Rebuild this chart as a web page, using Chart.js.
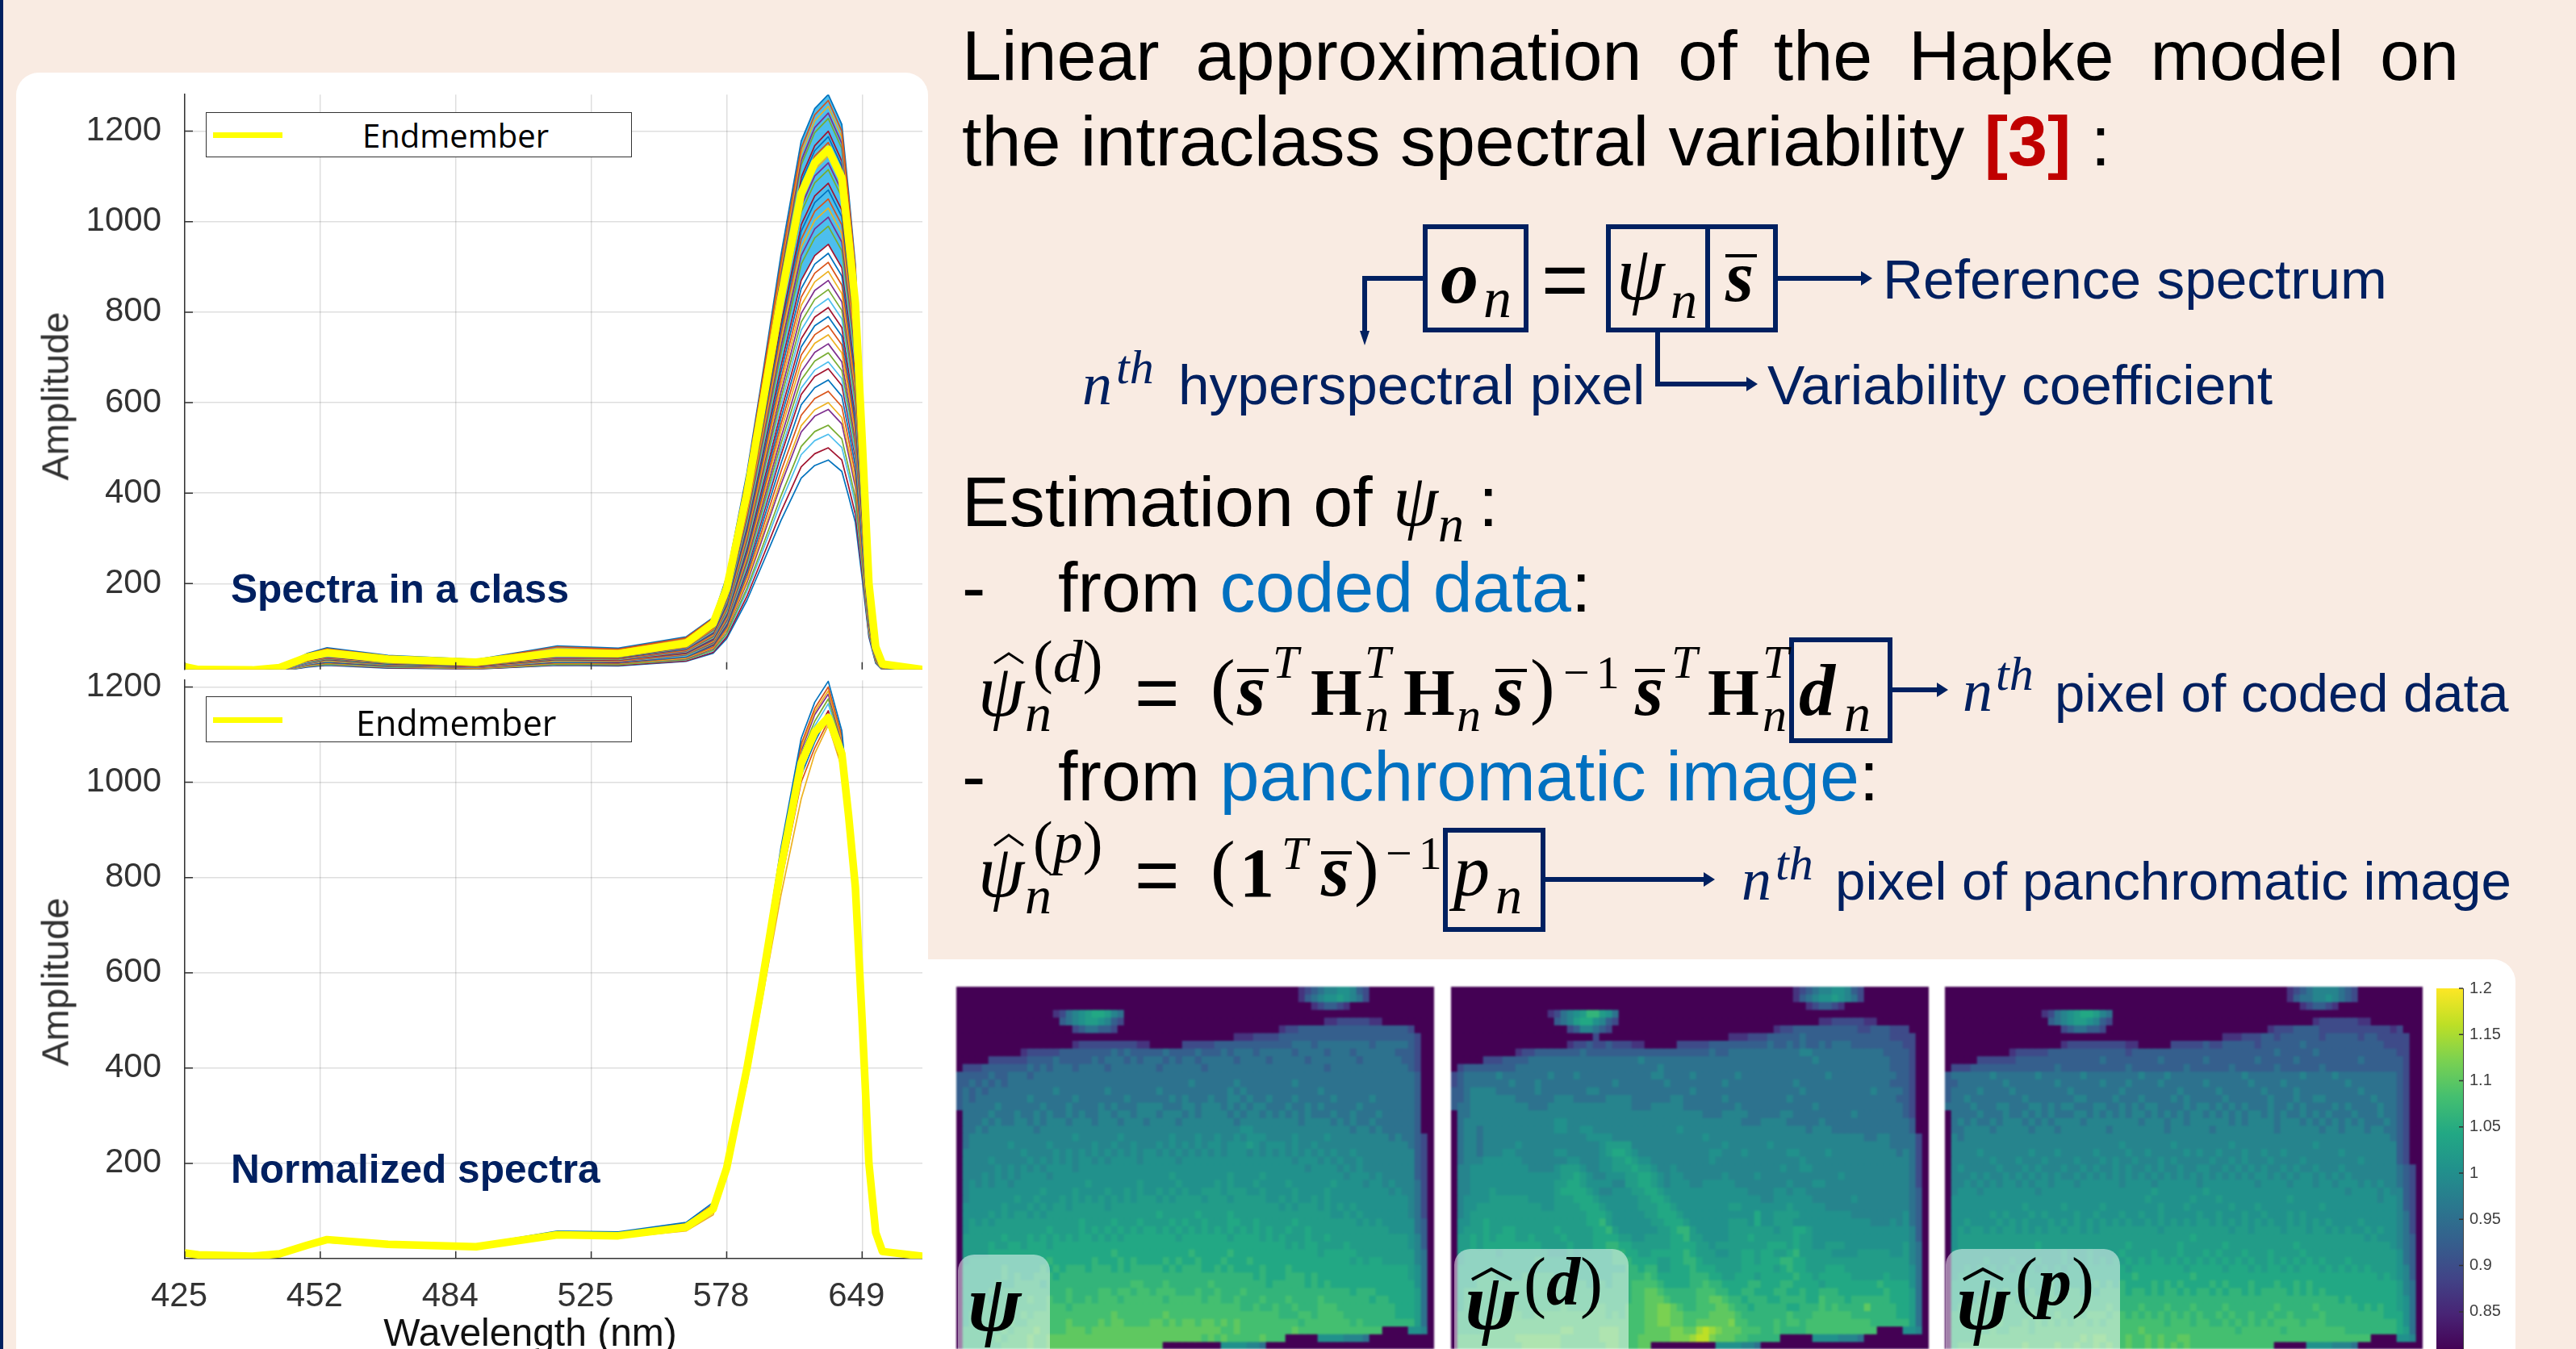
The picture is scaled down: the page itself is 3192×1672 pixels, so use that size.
<!DOCTYPE html>
<html>
<head>
<meta charset="utf-8">
<style>
html, body { margin: 0; padding: 0; }
body { width: 3192px; height: 1672px; position: relative; overflow: hidden; background: #f9ebe2; font-family: "Liberation Sans", Arial, sans-serif; }
canvas { position: absolute; }
.map { filter: blur(1.1px); }
.card { position: absolute; background: #fff; }
.t { position: absolute; white-space: pre; line-height: 1; }
.glass { position: absolute; background: rgba(255,255,255,0.5); border-radius: 20px 20px 0 0; }
#overlay { position: absolute; left: 0; top: 0; }
</style>
</head>
<body>
<div style="position:absolute;left:0;top:0;width:4px;height:1672px;background:#002060"></div>
<div class="card" style="left:20px;top:90px;width:1130px;height:1582px;border-radius:28px 28px 0 0"></div>
<div class="card" style="left:1140px;top:1189px;width:1977px;height:483px;border-radius:0 28px 0 0"></div>

<canvas id="classChart" width="1123" height="821" style="left:20px;top:63px"></canvas>
<canvas id="normChart" width="1123" height="883" style="left:20px;top:789px"></canvas>
<canvas class="map" id="psiMap" width="592" height="449" style="left:1185px;top:1223px"></canvas>
<canvas class="map" id="codedMap" width="592" height="449" style="left:1798px;top:1223px"></canvas>
<canvas class="map" id="panMap" width="592" height="449" style="left:2410px;top:1223px"></canvas>
<canvas id="colorbar" width="92" height="489" style="left:3019px;top:1205px"></canvas>

<div class="glass" style="left:1187px;top:1555px;width:114px;height:117px"></div>
<div class="glass" style="left:1802px;top:1548px;width:216px;height:124px"></div>
<div class="glass" style="left:2411px;top:1548px;width:216px;height:124px"></div>

<svg id="overlay" width="3192" height="1672" fill="none" stroke="#002060" stroke-width="6">
  <rect x="1766" y="281" width="125" height="128"/>
  <rect x="1993" y="281" width="207" height="128"/>
  <path d="M2116 281V409"/>
  <path d="M1766 345H1691V412" />
  <path d="M1685 410H1697L1691 428Z" fill="#002060" stroke="none"/>
  <path d="M2200 345H2308"/>
  <path d="M2306 336L2320 345L2306 354Z" fill="#002060" stroke="none"/>
  <path d="M2054 409V476H2166"/>
  <path d="M2164 467L2178 476L2164 485Z" fill="#002060" stroke="none"/>
  <rect x="2220" y="793" width="122" height="125"/>
  <path d="M2342 855H2402"/>
  <path d="M2400 846L2414 855L2400 864Z" fill="#002060" stroke="none"/>
  <rect x="1791" y="1029" width="121" height="123"/>
  <path d="M1912 1090H2113"/>
  <path d="M2111 1081L2125 1090L2111 1099Z" fill="#002060" stroke="none"/>
  <g stroke="#000" stroke-width="3">
    <path d="M1232 822L1250 810L1268 822"/>
    <path d="M1232 1048L1250 1035L1268 1048"/>
  </g>
  <g stroke="#000" stroke-width="4">
    <path d="M2138 317H2177M1533 831H1572M1853 831H1892M2026 831H2063M1637 1057H1675"/>
    <path d="M1824 1586L1848 1573L1873 1586M2433 1586L2457 1573L2482 1586"/>
  </g>
</svg>

<div id="legends"></div>
<div id="labels"></div>

<script src="https://cdn.jsdelivr.net/npm/chart.js@4/dist/chart.umd.min.js"></script>
<script>
// band index on the x axis, wavelength labels every 20 bands
const bands = [0,2,10,14,18,21,30,43,55,64,74,78,80,83,85,88,91,93,95,97,98,99,100,101,102,103,109];
const waveTicks = [0,20,40,60,80,100];
const waveLabels = ['425','452','484','525','578','649'];
const ampTicks = [200,400,600,800,1000,1200];
const matlabColors = ['#0072BD','#D95319','#EDB120','#7E2F8E','#77AC30','#4DBEEE','#A2142F'];

const classEndmember = [16,10,9,14,37,47,33,26,47,45,68,112,190,400,570,830,1062,1130,1160,1097,962,820,520,200,60,22,10];
const classSpectra = [
[18,11,10,16,45,58,41,32,62,57,82,125,215,445,632,925,1178,1250,1281,1215,1065,905,575,222,66,24,10],
[18,11,10,15,44,56,40,31,60,55,80,123,210,438,624,908,1162,1236,1268,1200,1052,897,568,219,65,24,10],
[17,11,10,15,42,54,38,30,56,53,77,121,206,432,617,898,1150,1223,1255,1187,1041,887,563,216,65,24,10],
[17,11,10,15,41,52,37,29,54,51,75,120,203,428,610,888,1135,1208,1240,1173,1028,877,556,214,64,23,10],
[17,11,10,15,40,51,36,28,52,50,73,119,201,424,604,879,1125,1197,1228,1162,1018,868,551,212,64,23,10],
[17,10,9,15,39,50,35,28,50,48,72,117,199,419,597,869,1112,1183,1215,1149,1007,859,544,209,63,23,10],
[17,10,9,14,38,49,35,27,49,47,71,116,196,414,589,858,1098,1168,1200,1134,995,848,538,207,62,23,10],
[16,10,9,14,38,48,34,27,48,46,70,115,195,410,584,850,1088,1157,1188,1123,985,840,532,205,61,22,10],
[16,10,9,14,37,48,33,26,48,46,69,113,192,405,577,841,1076,1145,1175,1111,975,831,527,203,61,22,10],
[16,10,9,14,36,46,33,26,46,44,67,110,187,395,563,819,1048,1115,1145,1083,950,809,513,197,59,22,10],
[15,10,9,14,36,46,32,25,46,44,66,109,185,390,555,808,1034,1101,1130,1068,937,799,506,195,58,21,10],
[15,10,9,13,35,45,32,25,45,43,65,108,183,384,548,798,1021,1086,1115,1054,924,788,500,192,58,21,10],
[15,9,9,13,35,44,31,25,44,43,64,106,180,379,540,787,1007,1071,1100,1040,912,777,493,190,57,21,10],
[15,9,8,13,34,44,31,24,44,42,63,104,178,374,533,776,993,1057,1085,1026,899,767,486,187,56,21,10],
[15,9,8,13,34,43,30,24,43,41,62,103,175,369,526,765,979,1042,1070,1011,887,756,480,184,55,20,10],
[14,9,8,13,33,42,30,24,42,41,61,101,172,362,516,751,961,1023,1050,993,871,742,471,181,54,20,10],
[14,9,8,12,33,41,29,23,41,40,60,99,169,355,506,737,943,1003,1030,974,854,728,462,178,53,20,10],
[14,9,8,12,32,41,29,23,41,39,59,98,165,348,496,723,925,984,1010,955,838,714,453,174,52,19,10],
[14,9,8,12,32,40,28,22,40,38,58,96,162,341,486,708,906,964,990,936,821,700,444,171,51,19,10],
[13,8,8,12,31,39,28,22,39,38,57,94,159,334,476,694,888,945,970,917,804,686,435,167,50,18,10],
[13,8,7,11,30,38,27,21,38,37,56,92,156,328,467,680,870,925,950,898,788,672,426,164,49,18,10],
[13,8,7,11,30,38,26,21,38,36,55,90,152,321,457,666,852,906,930,880,771,658,417,160,48,18,10],
[13,8,7,11,29,37,26,20,37,35,53,88,149,314,447,651,833,886,910,860,754,643,408,157,47,17,10],
[12,8,7,11,28,36,25,20,36,35,52,86,146,307,437,637,815,867,890,841,738,629,399,153,46,17,9],
[12,8,7,11,28,35,25,20,35,34,51,84,143,300,428,622,797,848,870,823,722,615,390,150,45,17,9],
[12,7,7,10,27,34,24,19,34,33,50,82,139,293,418,608,778,828,850,804,705,601,381,147,44,16,9],
[11,7,6,10,26,34,24,19,34,32,49,80,136,286,408,594,760,809,830,785,689,587,372,143,43,16,9],
[11,7,6,10,26,33,23,18,33,31,47,78,133,279,398,579,741,789,810,766,671,572,363,140,42,15,9],
[11,7,6,10,25,32,22,18,32,31,46,76,129,272,388,565,723,770,790,747,655,558,354,136,41,15,9],
[11,7,6,9,25,31,22,17,31,30,45,74,126,266,378,551,705,750,770,728,639,544,345,133,40,15,9],
[10,6,6,9,24,30,21,17,30,29,44,72,123,259,369,537,687,731,750,710,622,530,336,129,39,14,9],
[10,6,6,9,23,30,21,16,30,28,43,70,119,252,359,522,668,711,730,690,605,516,327,126,38,14,9],
[10,6,6,9,23,29,20,16,29,28,42,68,116,245,349,508,650,692,710,671,589,502,318,122,37,13,9],
[10,6,5,8,22,28,20,15,28,27,40,67,113,238,339,494,632,672,690,653,572,488,309,119,36,13,9],
[9,6,5,8,22,27,19,15,27,26,40,65,110,232,331,483,618,658,675,638,560,477,303,116,35,13,9],
[9,6,5,8,21,26,18,15,26,25,38,63,106,224,319,465,595,633,650,614,539,459,291,112,34,12,9],
[9,5,5,8,20,25,18,14,25,24,37,60,102,216,307,447,572,609,625,591,518,442,280,108,32,12,9],
[8,5,5,7,19,24,17,13,24,23,35,58,98,207,295,429,549,584,600,567,497,424,269,103,31,11,9],
[8,5,5,7,19,24,17,13,24,23,34,56,96,202,287,418,535,570,585,553,485,413,262,101,30,11,8],
[8,5,4,7,18,22,16,12,22,21,32,53,90,190,270,393,503,536,550,520,456,389,246,95,28,10,8],
[7,5,4,6,17,21,15,12,21,21,31,51,87,183,260,379,485,516,530,501,440,375,238,91,27,10,8],
[7,4,4,6,16,20,14,11,20,19,29,48,82,172,246,358,458,487,500,473,415,353,224,86,26,9,8],
[7,4,4,6,15,19,13,11,19,18,28,46,78,163,233,339,433,461,473,448,393,335,212,82,24,9,8]
];

const normEndmember = [12,8,5,10,28,40,30,25,50,48,66,104,190,400,560,820,1040,1105,1136,1060,930,780,500,200,55,15,5];
const normSpectra = [
[14,8,5,11,31,45,33,29,58,56,76,118,200,420,585,862,1092,1168,1212,1108,962,795,505,202,56,16,5],
[13,8,5,11,30,44,32,28,56,54,74,114,198,414,578,852,1080,1155,1200,1098,952,790,503,201,56,16,5],
[13,8,5,10,30,43,32,28,55,52,72,112,196,410,574,845,1072,1148,1192,1090,948,788,502,201,55,16,5],
[13,8,5,10,29,42,31,27,54,52,71,110,195,408,570,840,1066,1142,1185,1085,945,786,501,200,55,15,5],
[12,8,5,10,28,41,31,26,52,50,69,108,193,404,566,834,1058,1128,1175,1078,940,785,500,200,55,15,5],
[12,8,5,10,28,40,30,26,51,49,67,106,191,402,562,826,1048,1118,1165,1070,936,782,500,200,55,15,5],
[12,8,5,10,27,39,29,25,49,47,64,102,188,396,556,814,1030,1098,1150,1054,926,778,498,199,54,15,5],
[11,8,5,10,26,37,28,24,47,46,62,98,184,388,548,800,1014,1084,1140,1044,918,774,496,198,54,15,5],
[11,7,5,9,26,36,28,24,46,45,60,96,180,380,540,788,1000,1072,1128,1036,912,770,494,198,54,15,5],
[11,7,5,9,25,34,27,23,44,44,58,92,176,370,526,762,965,1060,1120,1030,905,765,492,197,53,15,5]
];

// heat map cells, one character per pixel, '.' is outside the scene
const levelValues = {'.':0.8,'0':0.86,'1':0.89,'2':0.92,'3':0.95,'4':0.98,'5':1.0,'6':1.02,'7':1.04,'8':1.06,'9':1.08,'a':1.1,'b':1.12,'c':1.14,'d':1.16};

const psiRows = [
".......... .......... .......... .......... .......... ...0123445 5421...... ....",
".......... .......... .......... .......... .......... ...0234556 5431...... ....",
".......... .......... .......... .......... .......... .....01221 0......... ....",
".......... .....01345 677643.... .......... .......... .......... .......... ....",
".......... ......2345 665421.... .......... .......... .......001 111100.... ....",
".......... ........12 33221..... .......... .......... 0112222222 2222222222 1...",
".......... .......... .......... .......... ...0001111 2222222222 2222222222 21..",
".......... ........01 1111111100 .....11111 2222222222 2233323333 3333233333 21..",
".......... 0111112222 2222323222 2232222322 2323332333 3323333233 3233333322 21..",
".....11111 1222232222 2323332323 3323233233 3332333323 3333233333 3323333332 21..",
".111222222 2323233323 3332333333 3233333323 3333333333 3333333233 3333333333 21..",
"2222232233 3233333333 3333333333 3333333333 3333333333 3333333333 3333333333 32..",
"2232323233 3333333333 3333333333 3333334333 3334333333 3343333333 3333333333 32..",
"2323233333 3333343333 3334333333 3433333333 3343433333 3333334333 3333333333 32..",
"2323333333 3433333343 3333334333 3334343334 3344343343 3343333343 3333433333 32..",
"2333334333 3334333433 3343433344 4433344344 4343434433 3433434333 3343333333 32..",
".333343334 3343433434 3344344344 4344434344 4434344343 4343433343 3433343333 32..",
".333434334 4343444344 4344434443 4444344444 4443444444 4443444434 3433433333 32..",
".334344444 4434444444 4444444444 4444444444 4444554444 4444444444 4344343333 32..",
".344444444 4444444454 4444454444 4445444544 5445455544 4454444544 4444444343 321.",
".344444454 4444544444 4544544544 4545454545 5455565455 5454454444 4444444444 321.",
".444444444 5444454545 4545454545 5454545454 5455545454 5454545454 4544444444 421.",
".444454444 4545454545 5454555545 5555455555 5555555555 5545554545 4454444444 421.",
".444445454 5454555545 5555555555 5555555555 5555555555 5555455554 5454444444 421.",
".444545454 5555455555 5555555555 5556555555 5565555655 5555555555 4555454444 421.",
".454545545 5555555555 6555555565 5555655555 6565556555 5655555565 5554554544 431.",
".455555555 5556555565 5556556565 5656565566 6566655655 5565555655 5555555454 431.",
".455555556 5565556565 6565656566 6565666656 6656666655 6565565655 5555555555 431.",
".555555655 5656566566 6665666666 6666666666 6666666666 5656665656 5655555555 431.",
".555565656 6565666666 6666666666 6766666766 6676666666 6666666655 6565555555 431.",
".565656666 6666666667 6666766676 6667676676 6677667666 6676666666 6656565555 532.",
".566666666 6666766667 6767676767 7676767676 7676767676 6766766666 6666666555 532.",
".666666766 6767676767 7676767777 7777677777 7767777676 7666766766 6666666666 542.",
".666676677 6777677777 7777777777 7777777777 7777777777 7676776666 7666666666 542.",
".666677777 7777777777 7777877777 7777778777 7787777777 7777776777 7766666666 643.",
".677777777 7777877777 7877787877 7787877877 7877787777 7777777777 7676776666 643.",
".777777877 7778787888 7888787888 8878788877 8787777877 7877777777 7777777777 653.",
".777777878 7788878888 8888888888 8888888888 8888887877 7888787777 7777777777 653.",
".777778778 8887888888 8888888998 8898888889 8888888878 8888787877 7777777777 753.",
".777787888 8888888988 8899899899 8999888988 9888988888 8888888888 8788877777 763.",
".777878888 8988988988 9899989999 9989999989 9889888988 8988889888 8888788777 763.",
".778888888 8888999899 9999999999 9999999999 9999889889 8898889998 8888888877 763.",
".788888888 9899999999 9999a99999 99a9999999 9999999999 8889989999 8888888877 763.",
".788888898 8999999a99 99a9aa9999 aa9a9aa9aa 9a9a999999 9998999999 9898888888 863.",
".888888989 99a9999aaa 9aaaaaaaaa aaaaaaaaaa a99a999999 99a9999999 999999.... 554.",
".888889899 9a99aaaaaa aaaaaaaaaa aaaaaaaa9a 9a99999a99 9.....5555 4443...... ....",
".888888999 9a99aaaaaa aaaaaaaaaa aa........ .5555443.. .......... .......... ...."
];

const codedRows = [
".......... .......... .......... .......... .......... ...0123445 5421...... ....",
".......... .......... .......... .......... .......... ...0234556 5431...... ....",
".......... .......... .......... .......... .......... .....01221 0......... ....",
".......... .....01345 688653.... .......... .......... .......... .......... ....",
".......... ......2346 775421.... .......... .......... .......001 111100.... ....",
".......... ........12 44321..... .......... .......... 0112222222 2221122211 1...",
".......... .......... ..1....... .......... ...0001112 2222322222 2222222211 11..",
".......... ........01 1211211100 .....11111 2222222223 2232322323 3322222222 11..",
".......... 0112222222 3222222222 2222222222 3223333333 3333443333 3333333222 21..",
".....11122 2233333333 3333333334 3333333333 3333333333 3333334333 3333333322 21..",
".122222222 3333333333 3333333333 3343333333 3333333333 3333333333 3333333322 21..",
"1233333433 3333343334 3333333333 3443333433 3333433333 3333333343 3333333332 21..",
"1233333334 3334333333 3333343333 3334333333 3343333333 3334333333 3333333322 21..",
"2234444333 3334333333 3443333333 3333333433 3333333333 3333433333 3333343333 21..",
"2234444444 3333334443 3333444433 3333443333 3343333333 3343333333 3333333332 21..",
"2334444444 4433344444 4444444433 3444443333 3333433333 3333334333 3333333333 21..",
".334444444 4444444444 4444444444 4444444443 3344443333 3443333333 3343333333 21..",
".344444444 4444445544 4444444444 4444444444 4444433344 4433333433 3333333333 32..",
".344344444 4444445544 5544444444 4444454444 4444444444 4444434443 3333333333 32..",
".344344444 4444444444 4555544444 4444444445 4444444444 4444444444 4444334433 331.",
".344344444 5444444444 4445666644 4444444444 4454444445 4444444444 4444444433 331.",
".344344455 4444445544 4445677654 4444444444 5544454444 4455444454 4444444443 431.",
".344455555 5444444455 4445566765 5444444444 5444444444 4444544444 4444444444 431.",
".445555555 5544445666 5445566676 6544544444 4444444444 4544554444 4444444444 431.",
".445555555 5555555667 6544555667 7654554444 4454444544 4444444444 5444444444 431.",
".445555555 5555556677 6555544667 7654555445 5555444444 4454445544 4444444444 431.",
".445556555 5555556777 7654455566 7765555555 5555554444 5545544444 4444444444 432.",
".455556666 6655556667 7765555556 6776555555 5555555544 5555554444 4454444444 432.",
".455666666 6666556666 7776555556 6677655555 5556655555 5565555544 4444444444 432.",
".456666666 6666666666 6777655555 6677765555 5555555755 6666555555 5544444444 532.",
".556676666 6666666666 6778655555 5667776555 5556665755 6665555555 5555544454 532.",
".566676677 6666667666 6677865555 5566788655 5556666666 5667765555 5555555555 542.",
".667676777 6676666766 6677776655 6666778665 5556667666 6667665555 5555555555 542.",
".667677777 7777666676 6677887766 6666777766 5666666667 7767665566 6555555555 643.",
".677777677 7777766676 7777788776 6777778766 6556677677 6678666665 5556666655 643.",
".677777777 7778777777 7777788877 7766778876 6666677677 7887766666 6666666666 643.",
".777777777 7777777777 7777777887 8866777877 7666677777 6787766677 7666666666 653.",
".777888777 7878887877 7777788888 9877777888 7766777677 7778776777 7766666766 653.",
".777888888 8888888888 8788788899 9987777889 8877778877 7887777677 7777778777 753.",
".788888888 8888888888 8888888899 aa98888899 9887788777 8877877888 7777777877 763.",
".788888888 8888888888 8888888899 aaa9888899 aa98878887 7888877988 8788888877 763.",
".788888899 8888888988 8899888999 aabba98899 9aa9887888 8877888989 8888a88887 763.",
".888888899 9889999999 9999898999 aabbaa9999 aaaa988888 8898889999 9988888887 763.",
".888889999 9999999999 9999999999 aabbaa99aa aaab998888 9899899999 9999988888 863.",
".888899999 9999999aa9 999aaa9999 aaaabbaacd cbaaa99988 9888899999 999999.... 554.",
".999999999 aaaaaaa999 999aaa999a aaaabbbcdd baaa998888 8.....5555 4443...... ....",
".999999999 9aaaaaa999 9999aa999a a......... .5555443.. .......... .......... ...."
];

const panRows = [
".......... .......... .......... .......... .......... ...0123444 4321...... ....",
".......... .......... .......... .......... .......... ...0233445 4321...... ....",
".......... .......... .......... .......... .......... .....01221 0......... ....",
".......... .....01345 677643.... .......... .......... .......... .......... ....",
".......... ......2345 665421.... .......... .......... .......011 111100.... ....",
".......... ........12 33221..... .......... .......... 0111222211 1111111110 1...",
".......... .......... .......... .......... ...0001112 2122222212 2222122111 11..",
".......... ........01 1111111100 .....11111 2112222212 2222232222 2222222211 11..",
".......... 0111112222 2222222212 2222222222 2222222222 2322222322 2222222222 11..",
".....11111 1222222222 2222322222 2223222222 3222222232 2222322222 2222322222 21..",
".111222222 2222222322 2222222232 2222222322 2222322222 2322222232 2222222222 21..",
"2333333433 3333433333 3433333333 4333433333 3333334333 3333343333 4333333333 21..",
"2233333334 3333333433 3333433343 3334333333 4333333433 3343333333 3343333333 21..",
"2333343333 4333333334 3333333433 3333334333 3343333334 3333433333 3333433333 21..",
"2334333333 3343333333 4433334333 4333343433 3334333333 4333433443 3333334333 21..",
"3333433344 3334434344 3334433434 3443333434 4343434333 4334343333 4343333433 21..",
".333343334 3343434333 4434343434 4343434344 3434343443 4343343434 3334333433 21..",
".343433434 4434343444 4344444444 3444344344 4444343444 4344434343 4343433343 21..",
".334444344 4443444344 4444434444 4444344444 4344444444 4344444434 4344434433 21..",
".434444444 4444444444 4444444444 4444444444 4444444444 4444444444 4444444443 21..",
".444444444 4444444444 4444444544 4444454444 4444544444 4444444544 4444444444 21..",
".444454444 4445444544 4445444454 4544444545 4454445445 4454444444 4544444444 21..",
".444444544 4544454444 5444545445 4445454444 4544545444 5444454444 4444544444 21..",
".454444454 4454544454 4545445454 4545445445 5445454545 4454544544 4544444444 321.",
".444545445 4545454544 5454545454 5454545454 5454545455 4545455454 5454444444 321.",
".445454545 5454554555 4555555455 5545555554 5555555545 5554555455 4555454544 321.",
".455545555 5555455555 5555555555 5565555555 6555555555 5555555555 5545555454 421.",
".555555555 5555555555 5555555555 5655555565 5565555555 5556555555 5555555455 421.",
".555555555 5565555565 5555655555 5556555655 5555655565 5555555565 5555555555 421.",
".555555656 5556565555 6556555655 6556555556 5565556556 5556565555 5555555555 431.",
".556555565 6565556565 6565656565 5656565656 6565656565 6556565656 5555655555 431.",
".565665656 6565656656 6565666666 6665666666 6666566566 6656665665 6565565655 431.",
".566666666 6666666666 6666666666 6666666676 6666666666 6666666666 6666656555 432.",
".566666666 6666766666 6666666676 6666667666 6667666666 6666766666 6666666665 432.",
".666666666 6666666676 6676666766 6676667666 7676667666 7666676666 6666666666 532.",
".666667666 7666766676 7676767676 7677676767 6767676766 7676767676 6676666666 532.",
".667676767 6767676767 7677777767 7777777677 7776777676 7767677767 6767676666 542.",
".677777677 7777777777 7777777778 7777777787 7777777777 7777777777 7777777676 542.",
".777777777 7787778787 7778787877 7787878777 7878777877 7877878777 7777777777 643.",
".777777878 7878788788 8787888878 8787887878 8787887878 8887878787 7777777777 643.",
".778787878 8788888888 8888888888 8888888888 8888888888 8888888888 8787777777 653.",
".788888888 8888888888 8988898888 9888988898 8889888888 8988888988 8888787877 653.",
".888888888 8889888988 9899989989 8989898989 8898988988 9889888898 8888888877 753.",
".888888898 8898989898 9989899999 9999899989 9889898989 8999989998 8888888888 753.",
".888888988 9998999999 9999999999 a999999999 9999989999 9989999999 9988888888 763.",
".888899999 9999999999 9a9aa999a9 9a9a99aa99 9999999999 9999999999 999999.... 554.",
".899999999 99a9999a99 a99a9a99a9 9a9a9a9a99 9999999999 9.....5555 4443...... ....",
".999999999 9999999a9a 999999a999 99........ .5555443.. .......... .......... ...."
];

const colorbarTicks = [0.85,0.9,0.95,1,1.05,1.1,1.15,1.2];
const viridisStops = ['#440154','#482475','#414487','#355f8d','#2a788e','#21918c','#22a884','#44bf70','#7ad151','#bddf26','#fde725'];

function hexToRgb(h) {
    return [parseInt(h.slice(1,3),16), parseInt(h.slice(3,5),16), parseInt(h.slice(5,7),16)];
}

function viridis(value) {
    const t = Math.min(1, Math.max(0, (value - 0.8) / 0.4)) * (viridisStops.length - 1);
    const i = Math.min(Math.floor(t), viridisStops.length - 2);
    const a = hexToRgb(viridisStops[i]), b = hexToRgb(viridisStops[i + 1]);
    const f = t - i;
    return `rgb(${a.map((v, k) => Math.round(v + (b[k] - v) * f)).join(',')})`;
}

// MATLAB style: ticks point into the plot
const inwardTicks = {
    id: 'inwardTicks',
    afterDraw(chart, args, opts) {
        const { ctx, chartArea } = chart;
        ctx.save();
        ctx.strokeStyle = '#333';
        ctx.lineWidth = 1.5;
        ctx.beginPath();
        if (chart.scales.x && opts.x) {
            chart.scales.x.ticks.forEach(t => {
                const p = chart.scales.x.getPixelForValue(t.value);
                ctx.moveTo(p, chartArea.bottom);
                ctx.lineTo(p, chartArea.bottom - opts.x);
            });
        }
        if (opts.y) {
            chart.scales.y.ticks.forEach(t => {
                const p = chart.scales.y.getPixelForValue(t.value);
                ctx.moveTo(chartArea.left, p);
                ctx.lineTo(chartArea.left + opts.y, p);
            });
        }
        if (opts.right) {
            chart.scales.y.ticks.forEach(t => {
                const p = chart.scales.y.getPixelForValue(t.value);
                ctx.moveTo(chartArea.right, p);
                ctx.lineTo(chartArea.right - opts.right, p);
            });
        }
        ctx.stroke();
        ctx.restore();
    }
};

function spectraChart(id, endmember, spectra, yMin, yMax, showLabels, fillCyan) {
    const toPoints = ys => ys.map((y, i) => ({ x: bands[i], y }));
    const datasets = [{
        label: 'Endmember',
        data: toPoints(endmember),
        borderColor: '#ffff00',
        borderWidth: 9.5,
        order: 0
    }];
    spectra.forEach((s, i) => {
        datasets.push({
            data: toPoints(s),
            borderColor: matlabColors[i % matlabColors.length],
            borderWidth: 1.7,
            order: i + 1
        });
    });
    if (fillCyan) {
        // the band under the tips is solid in the picture, too many lines to tell apart
        datasets[1].fill = { target: 21 };
        datasets[1].backgroundColor = '#4DBEEE';
        datasets[1].order = 99;
    }
    return new Chart(document.getElementById(id), {
        type: 'line',
        data: { datasets },
        plugins: [inwardTicks],
        options: {
            responsive: false,
            animation: false,
            layout: { padding: 0 },
            elements: { point: { radius: 0 }, line: { tension: 0, borderJoinStyle: 'round' } },
            plugins: {
                legend: { display: false },
                tooltip: { enabled: false },
                inwardTicks: { x: 9, y: 10 }
            },
            scales: {
                x: {
                    type: 'linear',
                    min: 0,
                    max: 108.9,
                    afterBuildTicks: s => { s.ticks = waveTicks.map(v => ({ value: v })); },
                    afterFit: s => { s.height = showLabels ? 112 : 0; },
                    ticks: {
                        display: showLabels,
                        autoSkip: false,
                        maxRotation: 0,
                        labelOffset: -7,
                        padding: 22,
                        color: '#333',
                        font: { family: 'Liberation Sans', size: 42 },
                        callback: (v, i) => waveLabels[i]
                    },
                    grid: { color: 'rgba(0,0,0,0.13)', lineWidth: 1.5, drawTicks: false },
                    border: { display: showLabels, color: '#333', width: 1.5 }
                },
                y: {
                    min: yMin,
                    max: yMax,
                    afterBuildTicks: s => { s.ticks = ampTicks.map(v => ({ value: v })); },
                    afterFit: s => { s.width = 209; },
                    ticks: {
                        padding: 29,
                        color: '#333',
                        font: { family: 'Liberation Sans', size: 42 },
                        callback: v => String(v)
                    },
                    grid: { color: 'rgba(0,0,0,0.13)', lineWidth: 1.5, drawTicks: false },
                    border: { color: '#333', width: 1.5 }
                }
            }
        }
    });
}

function heatChart(id, rows) {
    const cells = rows.map(r => r.replace(/ /g, '').padEnd(74, '.'));
    const cols = [...cells[0]].map((_, i) => i);
    const datasets = cells.map((row, r) => ({
        // a hair taller than the row so no seam shows at fractional pixels
        data: cols.map(() => [r, r + 1.06]),
        backgroundColor: [...row].map(ch => viridis(levelValues[ch])),
        borderWidth: 0,
        barPercentage: 1,
        categoryPercentage: 1,
        grouped: false
    }));
    return new Chart(document.getElementById(id), {
        type: 'bar',
        data: { labels: cols, datasets },
        options: {
            responsive: false,
            animation: false,
            layout: { padding: 0 },
            plugins: { legend: { display: false }, tooltip: { enabled: false } },
            scales: {
                x: { display: false },
                y: { display: false, reverse: true, min: 0.094, max: 47 }
            }
        }
    });
}

spectraChart('classChart', classEndmember, classSpectra, 10, 1281, false, true);
spectraChart('normChart', normEndmember, normSpectra, 0, 1214, true, false);
heatChart('psiMap', psiRows);
heatChart('codedMap', codedRows);
heatChart('panMap', panRows);

new Chart(document.getElementById('colorbar'), {
    type: 'bar',
    data: {
        labels: [''],
        datasets: [{
            data: [[0.8, 1.2]],
            barPercentage: 1,
            categoryPercentage: 1,
            backgroundColor(c) {
                const area = c.chart.chartArea;
                if (!area) return '#21918c';
                const g = c.chart.ctx.createLinearGradient(0, area.bottom, 0, area.top);
                viridisStops.forEach((col, i) => g.addColorStop(i / (viridisStops.length - 1), col));
                return g;
            }
        }]
    },
    plugins: [inwardTicks],
    options: {
        responsive: false,
        animation: false,
        layout: { padding: { top: 18, bottom: 0, left: 0, right: 0 } },
        plugins: { legend: { display: false }, tooltip: { enabled: false }, inwardTicks: { right: 5 } },
        scales: {
            x: { display: false },
            y: {
                position: 'right',
                min: 0.808,
                max: 1.2,
                afterBuildTicks: s => { s.ticks = colorbarTicks.map(v => ({ value: v })); },
                afterFit: s => { s.width = 59; },
                ticks: {
                    padding: 8,
                    color: '#404040',
                    font: { family: 'Liberation Sans', size: 20 },
                    callback: v => String(v)
                },
                grid: { display: false, drawTicks: false },
                border: { color: '#444', width: 1 }
            }
        }
    }
});

// hand placed text of the slide, baseline based
const SERIF = '"Liberation Serif", serif';
const NAVY = '#002060';
const BLUE = '#0070c0';
const labelsEl = document.getElementById('labels');

function put(x, base, html, size, css) {
    const d = document.createElement('div');
    d.className = 't';
    d.innerHTML = html;
    d.style.left = x + 'px';
    d.style.top = (base - 0.84 * size) + 'px';
    d.style.fontSize = size + 'px';
    d.style.cssText += css || '';
    labelsEl.appendChild(d);
    return d;
}
const mathBold = `font-family:${SERIF};font-weight:bold;font-style:italic;color:#000;`;
const mathIt = `font-family:${SERIF};font-style:italic;color:#000;`;
const upright = `font-family:${SERIF};color:#000;`;
const navyIt = `font-family:${SERIF};font-style:italic;color:${NAVY};`;

// legends and captions on the spectra
function legendBox(top, h, lineY, textX, baseY, size) {
    const box = document.createElement('div');
    box.style.cssText = `position:absolute;left:255px;top:${top}px;width:526px;height:${h}px;border:1.5px solid #333;background:#fff`;
    labelsEl.appendChild(box);
    const line = document.createElement('div');
    line.style.cssText = `position:absolute;left:264px;top:${lineY - 3.5}px;width:86px;height:7px;background:#ffff00`;
    labelsEl.appendChild(line);
    put(textX, baseY, 'Endmember', size, 'font-family:"Open Sans";color:#000;');
}
legendBox(139, 54, 167, 449, 182, 40);
legendBox(863, 55, 892, 441, 910, 43);
put(286, 748, 'Spectra in a class', 49.6, `font-weight:bold;color:${NAVY};`);
put(286, 1467, 'Normalized spectra', 49.6, `font-weight:bold;color:${NAVY};`);
put(657, 1668, 'Wavelength (nm)', 48, 'color:#111;transform:translateX(-50%);');
[[68, 491], [68, 1217]].forEach(([x, y]) => {
    const d = put(x, y, 'Amplitude', 47, 'color:#333;');
    d.style.left = x + 'px';
    d.style.top = y + 'px';
    d.style.transform = 'translate(-50%,-50%) rotate(-90deg)';
});

// heading
put(1192, 99, 'Linear approximation of the Hapke model on', 88, 'color:#000;width:1855px;white-space:normal;text-align:justify;text-align-last:justify;');
put(1192, 205, 'the intraclass spectral variability <b style="color:#c00000">[3]</b> :', 88, 'color:#000;');

// o_n = psi_n s
put(1785, 375, 'o', 94, mathBold);
put(1838, 394, 'n', 70, mathIt);
put(1910, 380, '=', 100, 'color:#000;');
put(2003, 372, 'ψ', 96, mathIt);
put(2070, 394, 'n', 66, mathIt);
put(2138, 374, 's', 90, mathBold);
put(2333, 370, 'Reference spectrum', 69.4, `color:${NAVY};`);
put(1341, 501, 'n', 74, navyIt);
put(1383, 475, 'th', 60, navyIt);
put(1460, 501, 'hyperspectral pixel', 69.4, `color:${NAVY};`);
put(2190, 501, 'Variability coefficient', 69.4, `color:${NAVY};`);

// estimation lines
put(1192, 652, 'Estimation of ', 88, 'color:#000;');
put(1726, 652, 'ψ', 90, mathIt);
put(1782, 672, 'n', 64, mathIt);
put(1832, 652, ':', 88, 'color:#000;');
put(1192, 758, '-', 88, 'color:#000;');
put(1311, 758, `from <span style="color:${BLUE}">coded data</span>:`, 88, 'color:#000;');
put(1192, 992, '-', 88, 'color:#000;');
put(1311, 992, `from <span style="color:${BLUE}">panchromatic image</span>:`, 88, 'color:#000;');

// equation (d)
put(1212, 887, 'ψ', 92, mathIt);
put(1280, 845, '(<i>d</i>)', 74, upright);
put(1270, 906, 'n', 66, mathIt);
put(1406, 891, '=', 95, 'color:#000;');
put(1500, 880, '(', 92, upright);
put(1533, 887, 's', 90, mathBold);
put(1577, 841, 'T', 58, mathIt);
put(1624, 887, 'H', 82, `${upright}font-weight:bold;`);
put(1691, 841, 'T', 58, mathIt);
put(1691, 906, 'n', 60, mathIt);
put(1739, 887, 'H', 82, `${upright}font-weight:bold;`);
put(1805, 906, 'n', 60, mathIt);
put(1853, 887, 's', 90, mathBold);
put(1896, 880, ')', 92, upright);
put(1937, 854, '−1', 58, `${upright}letter-spacing:8px;`);
put(2026, 887, 's', 90, mathBold);
put(2071, 841, 'T', 58, mathIt);
put(2116, 887, 'H', 82, `${upright}font-weight:bold;`);
put(2184, 841, 'T', 58, mathIt);
put(2184, 906, 'n', 60, mathIt);
put(2229, 887, 'd', 90, mathBold);
put(2285, 906, 'n', 66, mathIt);
put(2432, 881, 'n', 74, navyIt);
put(2473, 855, 'th', 60, navyIt);
put(2546, 881, 'pixel of coded data', 67, `color:${NAVY};`);

// equation (p)
put(1212, 1111, 'ψ', 92, mathIt);
put(1280, 1069, '(<i>p</i>)', 74, upright);
put(1270, 1132, 'n', 66, mathIt);
put(1406, 1117, '=', 95, 'color:#000;');
put(1500, 1105, '(', 92, upright);
put(1536, 1111, '1', 86, `${upright}font-weight:bold;`);
put(1588, 1078, 'T', 58, mathIt);
put(1637, 1111, 's', 90, mathBold);
put(1678, 1105, ')', 92, upright);
put(1717, 1078, '−1', 58, `${upright}letter-spacing:8px;`);
put(1801, 1111, 'p', 90, mathIt);
put(1853, 1132, 'n', 66, mathIt);
put(2158, 1115, 'n', 74, navyIt);
put(2200, 1090, 'th', 60, navyIt);
put(2274, 1115, 'pixel of panchromatic image', 67.3, `color:${NAVY};`);

// panel captions
put(1199, 1650, 'ψ', 100, mathBold);
put(1815, 1648, 'ψ', 100, mathBold);
put(1888, 1618, '(<b><i>d</i></b>)', 84, upright);
put(2424, 1648, 'ψ', 100, mathBold);
put(2497, 1618, '(<b><i>p</i></b>)', 84, upright);
</script>
</body>
</html>
